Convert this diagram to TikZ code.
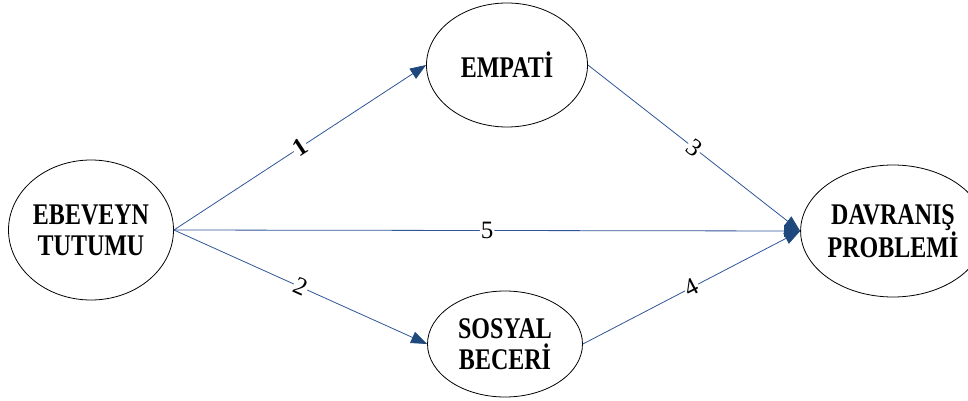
\documentclass[tikz,border=0pt]{standalone}
\usepackage{fontspec}
\setmainfont{Liberation Serif}
\usetikzlibrary{shapes.geometric,arrows.meta}
\definecolor{lineblue}{RGB}{47,85,151}
\definecolor{headblue}{RGB}{31,73,125}
\newcommand{\tallt}[1]{\scalebox{1}[1.25]{#1}}
\tikzset{
  oval/.style={ellipse,draw=black,line width=0.8pt,inner sep=0pt,align=center,
    font=\fontsize{24}{31}\selectfont\bfseries},
  link/.style={draw=lineblue,line width=0.8pt,-{Triangle[length=16pt,width=12pt,fill=headblue,color=headblue]}},
  num/.style={fill=white,inner sep=1pt,sloped,font=\fontsize{25}{25}\selectfont}
}
\begin{document}
\begin{tikzpicture}[x=1pt,y=-1pt]
\useasboundingbox (0,0) rectangle (968,401);
\node[oval,minimum width=165pt,minimum height=140pt] (ebev) at (91,230) {\tallt{EBEVEYN}\\\tallt{TUTUMU}};
\node[oval,minimum width=161pt,minimum height=124pt] (emp) at (507,65) {\tallt{EMPATİ}};
\node[oval,minimum width=152pt,minimum height=132pt] (dav) at (893,231) {\tallt{DAVRANIŞ}\\\tallt{PROBLEMİ}};
\node[oval,minimum width=155pt,minimum height=106pt] (sos) at (505,344) {\tallt{SOSYAL}\\\tallt{BECERİ}};
\draw[link] (ebev.east) -- node[num]{\bfseries 1} (emp.west);
\draw[link] (ebev.east) -- node[num]{2} (sos.west);
\draw[link] (emp.east) -- node[num]{3} (dav.west);
\draw[link] (sos.east) -- node[num]{4} (dav.west);
\draw[link] (ebev.east) -- node[num]{5} (dav.west);
\end{tikzpicture}
\end{document}
